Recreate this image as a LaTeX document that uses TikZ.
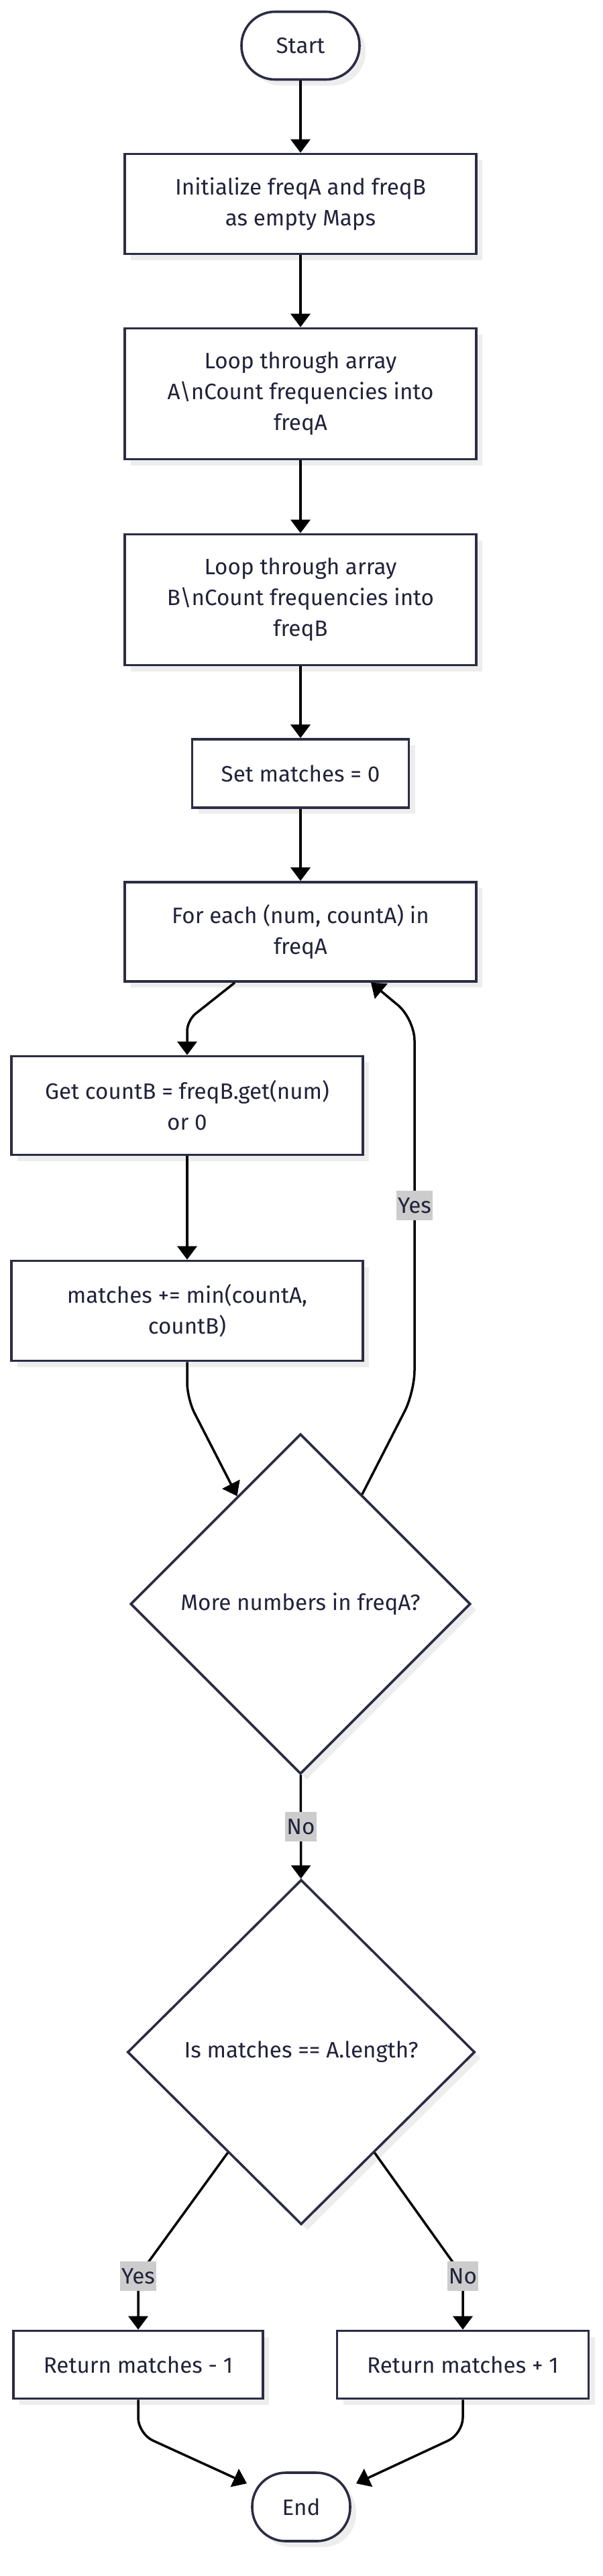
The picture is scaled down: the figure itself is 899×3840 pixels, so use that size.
\documentclass[tikz,border=0pt]{standalone}
\usepackage{fontspec}
\setmainfont{Fira Sans}
\usepackage{xcolor}
\usepackage{tikz}
\usetikzlibrary{shapes.geometric, arrows.meta, positioning, calc, shadows}
\definecolor{ink}{HTML}{2C2C44}
\definecolor{txt}{HTML}{22223A}
\definecolor{lblbg}{HTML}{CCCCCC}

\begin{document}
\begin{tikzpicture}[x=0.5pt, y=-0.5pt,
  every node/.style={font=\fontsize{16.6}{23}\selectfont, text=txt},
  box/.style={draw=ink, line width=1.8pt, fill=white, align=center, inner sep=0pt,
    drop shadow={shadow xshift=4.5pt, shadow yshift=-4.5pt, fill=black!7, opacity=1}},
  term/.style={box, rounded corners=25pt},
  dec/.style={box, diamond, aspect=1},
  lbl/.style={fill=lblbg, sharp corners, inner xsep=1pt, inner ysep=0pt, minimum height=22pt, text=txt},
  arr/.style={-{Triangle[length=10pt, width=14.5pt]}, line width=1.75pt, black}]
  \useasboundingbox (0,0) rectangle (899,3840);
  \node[term, minimum width=88pt, minimum height=50.5pt] (S) at (448,68) {Start};
  \node[box, minimum width=262pt, minimum height=74.5pt] (I) at (448,304) {Initialize freqA and freqB\\as empty Maps};
  \node[box, minimum width=262pt, minimum height=97.5pt] (LA) at (448,587) {Loop through array\\A\textbackslash nCount frequencies into\\freqA};
  \node[box, minimum width=262pt, minimum height=97.5pt] (LB) at (448,894) {Loop through array\\B\textbackslash nCount frequencies into\\freqB};
  \node[box, minimum width=161.5pt, minimum height=51pt] (M0) at (448,1153) {Set matches = 0};
  \node[box, minimum width=262pt, minimum height=74pt] (F) at (448,1389) {For each (num, countA) in\\freqA};
  \node[box, minimum width=262pt, minimum height=73.5pt] (G) at (279,1648) {Get countB = freqB.get(num)\\or 0};
  \node[box, minimum width=262pt, minimum height=74.5pt] (M) at (279,1954) {matches += min(countA,\\countB)};
  \node[dec, minimum width=253.5pt, minimum height=253.5pt] (D1) at (448,2391) {More numbers in freqA?};
  \node[dec, minimum width=259pt, minimum height=257pt] (D2) at (449,3059) {Is matches == A.length?};
  \node[box, minimum width=186pt, minimum height=50.5pt] (R1) at (206,3525) {Return matches - 1};
  \node[box, minimum width=187.5pt, minimum height=50.5pt] (R2) at (690,3525) {Return matches + 1};
  \node[term, minimum width=73pt, minimum height=51pt] (E) at (449,3737) {End};
  \draw[arr] (S) -- (I);
  \draw[arr] (I) -- (LA);
  \draw[arr] (LA) -- (LB);
  \draw[arr] (LB) -- (M0);
  \draw[arr] (M0) -- (F);
  \draw[arr, rounded corners=8pt] ($(F.south)+(-98,0)$) -- (279,1521) -- (G);
  \draw[arr] (G) -- (M);
  \draw[arr, rounded corners=12pt] (M) -- (279,2085) -- ($(D1.north)!0.37!(D1.west)$);
  \draw[arr, rounded corners=16pt] ($(D1.north)!0.36!(D1.east)$) -- (618,2075) -- node[lbl] {Yes} (618,1519) -- ($(F.south)+(105,0)$);
  \draw[arr] (D1) -- node[lbl] {No} (D2);
  \draw[arr, rounded corners=6pt] ($(D2.south)!0.42!(D2.west)$) -- (206,3393) node[lbl] {Yes} -- (R1);
  \draw[arr, rounded corners=6pt] ($(D2.south)!0.42!(D2.east)$) -- (690,3393) node[lbl] {No} -- (R2);
  \draw[arr, rounded corners=12pt] (R1) -- (206,3628) -- ($(E)+(-81,-35)$);
  \draw[arr, rounded corners=12pt] (R2) -- (690,3628) -- ($(E)+(82,-35)$);
\end{tikzpicture}
\end{document}
